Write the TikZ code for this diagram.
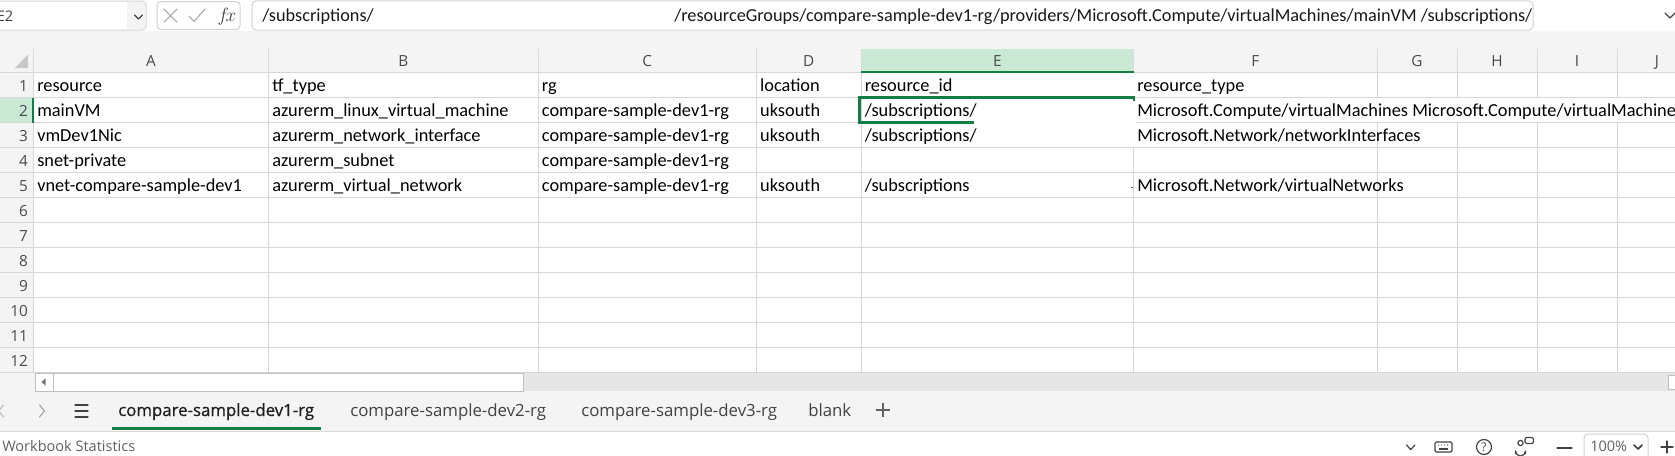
\documentclass[tikz,border=0pt]{standalone}
\usepackage{fontspec}
\setmainfont{Carlito}
\newfontfamily\uifont{Open Sans}
\newfontfamily\uisemi[FakeBold=0.7]{Open Sans}
\definecolor{gridc}{HTML}{D6D6D6}
\definecolor{hdrsep}{HTML}{DADADA}
\definecolor{barbg}{HTML}{F4F4F4}
\definecolor{scrollbg}{HTML}{E6E6E6}
\definecolor{selgreen}{HTML}{137E43}
\definecolor{selbg}{HTML}{C9E9D5}
\definecolor{hdrtext}{HTML}{4A4A4A}
\definecolor{tabtext}{HTML}{424242}
\definecolor{stattext}{HTML}{616161}
\definecolor{boxline}{HTML}{D2D2D2}
\definecolor{icongray}{HTML}{A8A8A8}
\begin{document}
\begin{tikzpicture}[x=0.75pt,y=-0.75pt,
  cell/.style={anchor=base west,inner sep=0pt,font=\fontsize{13.75}{16}\selectfont,text=black},
  fbtext/.style={anchor=base west,inner sep=0pt,font=\fontsize{13.7}{16}\selectfont,text=black!90},
  colhdr/.style={anchor=base,inner sep=0pt,font=\uifont\fontsize{11.5}{14}\selectfont,text=hdrtext},
  rowhdr/.style={anchor=base east,inner sep=0pt,font=\uifont\fontsize{11.5}{14}\selectfont,text=hdrtext},
  tablabel/.style={anchor=base west,inner sep=0pt,font=\uifont\fontsize{12.6}{15}\selectfont,text=tabtext},
  stat/.style={anchor=base west,inner sep=0pt,font=\uifont\fontsize{10.9}{13}\selectfont,text=stattext},
  gridl/.style={draw=gridc,line width=0.75pt},
  hsep/.style={draw=hdrsep,line width=0.75pt},
  selline/.style={draw=selgreen,line width=1.6pt},
  uibox/.style={draw=boxline,fill=white,line width=0.75pt,rounded corners=3pt},
  icon/.style={draw=tabtext,line width=0.9pt,line cap=round,line join=round}
]
\useasboundingbox (0,0) rectangle (1675,455);
% ---------- backgrounds ----------
\fill[white] (0,0) rectangle (1675,455);
\fill[barbg] (0,30.5) rectangle (1675,72.5);
\fill[barbg] (0,72.5) rectangle (33.3,372.5);
\fill[selbg] (861,49) rectangle (1133.6,72.5);
\fill[selbg] (0,97.5) rectangle (33.3,122.5);
\fill[scrollbg] (0,372.5) rectangle (1675,391);
\fill[barbg] (0,372.5) rectangle (35,391);
\fill[barbg] (0,391) rectangle (1675,431);
\draw[draw=hdrsep,line width=0.75pt] (0,431) -- (1675,431);
% ---------- formula bar ----------
\draw[uibox] (-6,1) rectangle (146,30);
\fill[barbg] (127,1.8) rectangle (145.2,29.2);
\node[anchor=base west,inner sep=0pt,font=\uifont\fontsize{11}{13}\selectfont,text=tabtext] (namebox) at (-3.5,21.5) {E2};
\draw[icon] (134.5,15) -- (138.5,19) -- (142.5,15);
\draw[uibox] (157,1.5) rectangle (240,29.5);
\draw[draw=icongray,line width=0.8pt,line cap=round] (164,9) -- (177,22) (164,22) -- (177,9);
\draw[draw=icongray,line width=0.8pt,line cap=round,line join=round] (189,16) -- (194,21.5) -- (205,9);
\node[anchor=base,inner sep=0pt,font=\fontsize{14}{16}\selectfont,text=tabtext] (fx) at (227,21.5) {$f\!x$};
\draw[uibox] (252,0.8) rectangle (1533,30);
\node[fbtext] (fb1) at (262,21.5) {/subscriptions/};
\node[fbtext] (fb2) at (674,21.5) {/resourceGroups/compare-sample-dev1-rg/providers/Microsoft.Compute/virtualMachines/mainVM /subscriptions/};
\draw[icon] (1665,13) -- (1670,18) -- (1675,13);
% ---------- header row ----------
\fill[draw=none,fill=black!22] (15,68) -- (28,68) -- (28,54.5) -- cycle;
\foreach \x in {33.3,268.6,538.2,756.4,861,1133.6,1377,1457,1537,1617}
  \draw[hsep] (\x,49) -- (\x,72.5);
\node[colhdr] (hA) at (151,66) {A};
\node[colhdr] (hB) at (403.4,66) {B};
\node[colhdr] (hC) at (647.3,66) {C};
\node[colhdr] (hD) at (808.7,66) {D};
\node[colhdr] (hE) at (997.3,66) {E};
\node[colhdr] (hF) at (1255.3,66) {F};
\node[colhdr] (hG) at (1417,66) {G};
\node[colhdr] (hH) at (1497,66) {H};
\node[colhdr] (hI) at (1577,66) {I};
\node[colhdr] (hJ) at (1657,66) {J};
% ---------- grid ----------
\draw[gridl] (0,72.5) -- (1675,72.5);
\foreach \k in {1,3,4,5,6,7,8,9,10,11,12}
  \draw[gridl] (0,72.5+25*\k) -- (1675,72.5+25*\k);
\draw[gridl] (0,122.5) -- (974,122.5);
\draw[gridl] (1137,122.5) -- (1675,122.5);
\draw[gridl] (33.3,72.5) -- (33.3,372.5);
\foreach \x in {268.6,538.2,756.4,861}
  \draw[gridl] (\x,72.5) -- (\x,372.5);
\draw[gridl] (1133.6,147.5) -- (1133.6,372.5);
\foreach \x in {1377,1457,1537,1617}
  \draw[gridl] (\x,72.5) -- (\x,97.5) (\x,122.5) -- (\x,372.5);
\draw[draw=black!60,line width=0.6pt] (1130.5,187.5) -- (1132.5,187.5);
% ---------- selection ----------
\draw[selline] (861,71.8) -- (1133.6,71.8);
\draw[selline] (33.3,97.5) -- (33.3,122.5);
\draw[selline] (1133.6,100.5) -- (1133.6,97.5) -- (859.5,97.5) -- (859.5,122.5) -- (974,122.5);
% ---------- row numbers ----------
\foreach \r in {1,...,12}
  \node[rowhdr] (rn\r) at (28.2,91.5+25*\r-25) {\r};
% ---------- cells ----------
\node[cell] (a1) at (37,91.5) {resource};
\node[cell] (b1) at (272,91.5) {tf\_type};
\node[cell] (c1) at (541.7,91.5) {rg};
\node[cell] (d1) at (759.9,91.5) {location};
\node[cell] (e1) at (864.5,91.5) {resource\_id};
\node[cell] (f1) at (1137,91.5) {resource\_type};
\node[cell] (a2) at (37,116.5) {mainVM};
\node[cell] (b2) at (272,116.5) {azurerm\_linux\_virtual\_machine};
\node[cell] (c2) at (541.7,116.5) {compare-sample-dev1-rg};
\node[cell] (d2) at (759.9,116.5) {uksouth};
\node[cell] (e2) at (864.5,116.5) {/subscriptions/};
\node[cell] (f2) at (1137,116.5) {Microsoft.Compute/virtualMachines Microsoft.Compute/virtualMachine};
\node[cell] (a3) at (37,141.5) {vmDev1Nic};
\node[cell] (b3) at (272,141.5) {azurerm\_network\_interface};
\node[cell] (c3) at (541.7,141.5) {compare-sample-dev1-rg};
\node[cell] (d3) at (759.9,141.5) {uksouth};
\node[cell] (e3) at (864.5,141.5) {/subscriptions/};
\node[cell] (f3) at (1137,141.5) {Microsoft.Network/networkInterfaces};
\node[cell] (a4) at (37,166.5) {snet-private};
\node[cell] (b4) at (272,166.5) {azurerm\_subnet};
\node[cell] (c4) at (541.7,166.5) {compare-sample-dev1-rg};
\node[cell] (a5) at (37,191.5) {vnet-compare-sample-dev1};
\node[cell] (b5) at (272,191.5) {azurerm\_virtual\_network};
\node[cell] (c5) at (541.7,191.5) {compare-sample-dev1-rg};
\node[cell] (d5) at (759.9,191.5) {uksouth};
\node[cell] (e5) at (864.5,191.5) {/subscriptions};
\node[cell] (f5) at (1137,191.5) {Microsoft.Network/virtualNetworks};
% ---------- horizontal scrollbar ----------
\draw[draw=black!25,fill=white,line width=0.75pt] (35,373) rectangle (523,391);
\draw[draw=black!25,line width=0.75pt] (53,373) -- (53,391);
\fill[black!55] (45.5,378.5) -- (41.5,382) -- (45.5,385.5) -- cycle;
\draw[draw=black!25,fill=white,line width=0.75pt] (1668,375) rectangle (1680,389);
% ---------- sheet tabs ----------
\draw[draw=black!25,line width=0.9pt,line cap=round,line join=round] (3.5,405) -- (-1.5,411) -- (3.5,417);
\draw[draw=black!35,line width=0.9pt,line cap=round,line join=round] (39.5,405) -- (44.5,411) -- (39.5,417);
\draw[icon] (75,405) -- (88,405) (75,411) -- (88,411) (75,417) -- (88,417);
\node[anchor=base west,inner sep=0pt,font=\uisemi\fontsize{12.6}{15}\selectfont,text=black!88] (tab1) at (118,416) {compare-sample-dev1-rg};
\fill[selgreen] (112,427) rectangle (321,430);
\node[tablabel] (tab2) at (350,416) {compare-sample-dev2-rg};
\node[tablabel] (tab3) at (581,416) {compare-sample-dev3-rg};
\node[tablabel] (tab4) at (808,416) {blank};
\draw[draw=stattext,line width=0.9pt] (876,410) -- (890,410) (883,403) -- (883,417);
% ---------- status bar ----------
\node[stat] (wbstat) at (2,451.5) {Workbook Statistics};
\draw[icon] (1406.5,445) -- (1410.7,449.5) -- (1415,445);
\draw[icon,rounded corners=1pt] (1435,442) rectangle (1452,452);
\foreach \xx in {1438.5,1441.5,1444.5,1447.5}
  \fill[tabtext] (\xx,445) circle (0.6);
\draw[draw=tabtext,line width=0.8pt] (1439,449) -- (1448,449);
\draw[icon] (1484,447) circle (7.5);
\node[anchor=center,inner sep=0pt,font=\uifont\fontsize{9}{10}\selectfont,text=tabtext] (helpq) at (1484,447.5) {?};
\draw[icon] (1520.5,443) circle (2.6);
\draw[icon] (1515.5,453.5) -- (1515.5,451) arc (180:0:5) -- (1525.5,453.5);
\draw[icon,rounded corners=1.5pt] (1525,437.5) rectangle (1533.5,443.5);
\draw[icon] (1557,448) -- (1572,448);
\draw[uibox] (1584,434) rectangle (1648,460);
\node[stat] (zoomtxt) at (1590,451.5) {100\%};
\draw[draw=tabtext,line width=1.3pt,line cap=round,line join=round] (1634,445) -- (1638,449) -- (1642,445);
\draw[icon] (1661,447) -- (1673,447) (1667,441) -- (1667,453);
\end{tikzpicture}
\end{document}
